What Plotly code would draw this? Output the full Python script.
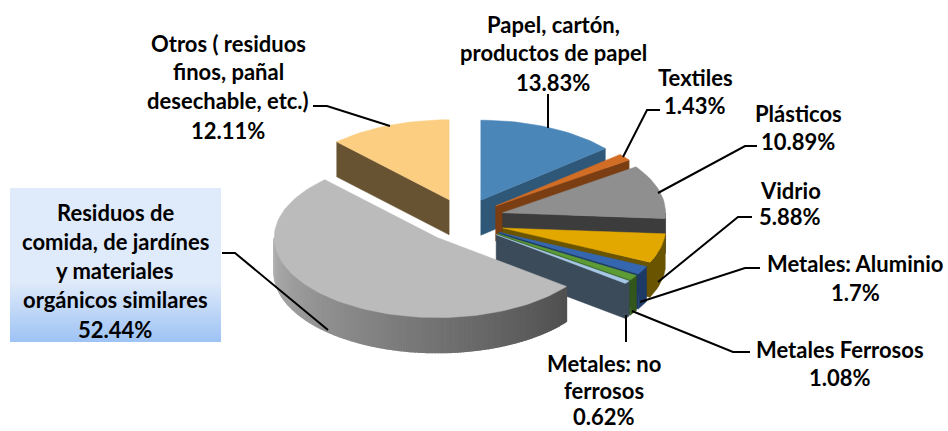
import math

import plotly.graph_objects as go

categories = [
    "Papel, cartón, productos de papel",
    "Textiles",
    "Plásticos",
    "Vidrio",
    "Metales: Aluminio",
    "Metales Ferrosos",
    "Metales: no ferrosos",
    "Residuos de comida, de jardínes y materiales orgánicos similares",
    "Otros ( residuos finos, pañal desechable, etc.)",
]
values = [13.83, 1.43, 10.89, 5.88, 1.7, 1.08, 0.62, 52.44, 12.11]
top_colors = ["#4a86b8", "#d26d26", "#8f8f8f", "#e2a800", "#3566b0",
              "#5d9c35", "#a6c8e6", "#bbbbbb", "#fbce82"]
side_colors = ["#2f5878", "#7a3e12", "#3c3c3c", "#6a5400", "#1d3a66",
               "#33561c", "#3c4b5a", "#8a8a8a", "#675232"]

# label lines, the last line of each label is the value
label_lines = [
    ["Papel, cartón,", "productos de papel"],
    ["Textiles"],
    ["Plásticos"],
    ["Vidrio"],
    ["Metales: Aluminio"],
    ["Metales Ferrosos"],
    ["Metales: no", "ferrosos"],
    ["Residuos de", "comida, de jardínes", "y materiales", "orgánicos similares"],
    ["Otros ( residuos", "finos, pañal", "desechable, etc.)"],
]
label_x = [553, 695, 798, 790, 855, 840, 604, 115, 228]
label_y = [
    [24, 52, 82],
    [77, 105],
    [113, 141],
    [190, 216],
    [263, 292],
    [349, 377],
    [363, 390, 416],
    [212, 241, 270, 299, 329],
    [43, 71, 100, 130],
]
leaders = [
    [(548, 94), (548, 128)],
    [(660, 110), (647, 110), (623, 157)],
    [(757, 146), (745, 146), (658, 193)],
    [(752, 217), (738, 217), (658, 282)],
    [(760, 268), (745, 268), (640, 302)],
    [(750, 352), (733, 352), (632, 311)],
    [(626, 315), (626, 342)],
    [(222, 253), (235, 253), (328, 330)],
    [(313, 106), (327, 106), (390, 126)],
]

CX, CY = 464, 218
RX, RY = 163, 80
DEPTH = 35
EXPLODE = 40
FRONT_SHIFT = 5


def ellipse_point(deg, cx, cy, drop=0):
    a = math.radians(deg)
    return cx + RX * math.sin(a), cy - RY * math.cos(a) + drop


def arc(start, end, cx, cy, drop=0):
    n = max(2, int((end - start) / 2) + 1)
    return [ellipse_point(start + (end - start) * i / (n - 1), cx, cy, drop) for i in range(n)]


def mix(c1, c2, t):
    a = [int(c1[i:i + 2], 16) for i in (1, 3, 5)]
    b = [int(c2[i:i + 2], 16) for i in (1, 3, 5)]
    return "rgb(%d,%d,%d)" % tuple(a[i] + (b[i] - a[i]) * t for i in range(3))


fig = go.Figure()


def poly(points, color, width=0.5):
    xs = [p[0] for p in points] + [points[0][0]]
    ys = [p[1] for p in points] + [points[0][1]]
    fig.add_trace(go.Scatter(x=xs, y=ys, mode="lines", fill="toself", fillcolor=color,
                             line=dict(color=color, width=width), hoverinfo="skip", showlegend=False))


# background of the highlighted label
BOX_TOP, BOX_BOTTOM, BOX_FADE = 188, 342, 282
for y in range(BOX_TOP, BOX_BOTTOM):
    t = max(0, (y - BOX_FADE) / (BOX_BOTTOM - BOX_FADE))
    fig.add_shape(type="rect", xref="x", yref="y", x0=10, x1=221, y0=y, y1=y + 1,
                  fillcolor=mix("#dfeafa", "#9dc3f5", t), line_width=0, layer="below")

total = sum(values)
cum = 0
slices = []
for i, v in enumerate(values):
    start = cum / total * 360
    cum += v
    slices.append((i, start, cum / total * 360))

# back slices first, the big front slice last
order = [8, 0, 1, 2, 3, 4, 5, 6, 7]
for i, start, end in [slices[k] for k in order]:
    mid = math.radians((start + end) / 2)
    cx = CX + EXPLODE * math.sin(mid)
    cy = CY - EXPLODE * RY / RX * math.cos(mid)
    if math.cos(mid) < 0:
        cy += FRONT_SHIFT

    if start > 180:
        p = ellipse_point(start, cx, cy)
        poly([(cx, cy), p, (p[0], p[1] + DEPTH), (cx, cy + DEPTH)], side_colors[i])
    if end < 180:
        p = ellipse_point(end, cx, cy)
        poly([(cx, cy), p, (p[0], p[1] + DEPTH), (cx, cy + DEPTH)], side_colors[i])

    a0, a1 = max(start, 90), min(end, 270)
    if a1 > a0:
        if i == 7:
            # rim of the big slice goes from dark on the right to light on the left
            n = int(a1 - a0)
            for k in range(n):
                s = a0 + (a1 - a0) * k / n
                e = a0 + (a1 - a0) * (k + 1) / n
                poly(arc(s, e, cx, cy) + arc(s, e, cx, cy, DEPTH)[::-1],
                     mix("#505050", "#b0b0b0", k / n), width=1.5)
        else:
            poly(arc(a0, a1, cx, cy) + arc(a0, a1, cx, cy, DEPTH)[::-1], side_colors[i])

    poly([(cx, cy)] + arc(start, end, cx, cy), top_colors[i])

for pts in leaders:
    fig.add_trace(go.Scatter(x=[p[0] for p in pts], y=[p[1] for p in pts], mode="lines",
                             line=dict(color="black", width=2), hoverinfo="skip", showlegend=False))

for i, lines in enumerate(label_lines):
    for text, y in zip(lines + [f"{values[i]}%"], label_y[i]):
        fig.add_annotation(x=label_x[i], y=y, text=text, showarrow=False, xanchor="center", yanchor="middle",
                           borderpad=0, font=dict(family="Lato", size=22, color="black", weight="bold"))

fig.update_xaxes(range=[0, 948], visible=False, fixedrange=True)
fig.update_yaxes(range=[431, 0], visible=False, fixedrange=True)
fig.update_layout(width=948, height=431, margin=dict(l=0, r=0, t=0, b=0),
                  paper_bgcolor="white", plot_bgcolor="white", showlegend=False)

# the page's default body margin would push the chart off by 8px
fig.write_html("out.html", config=dict(displayModeBar=False),
               post_script="document.body.style.margin='0';document.body.style.overflow='hidden';")
